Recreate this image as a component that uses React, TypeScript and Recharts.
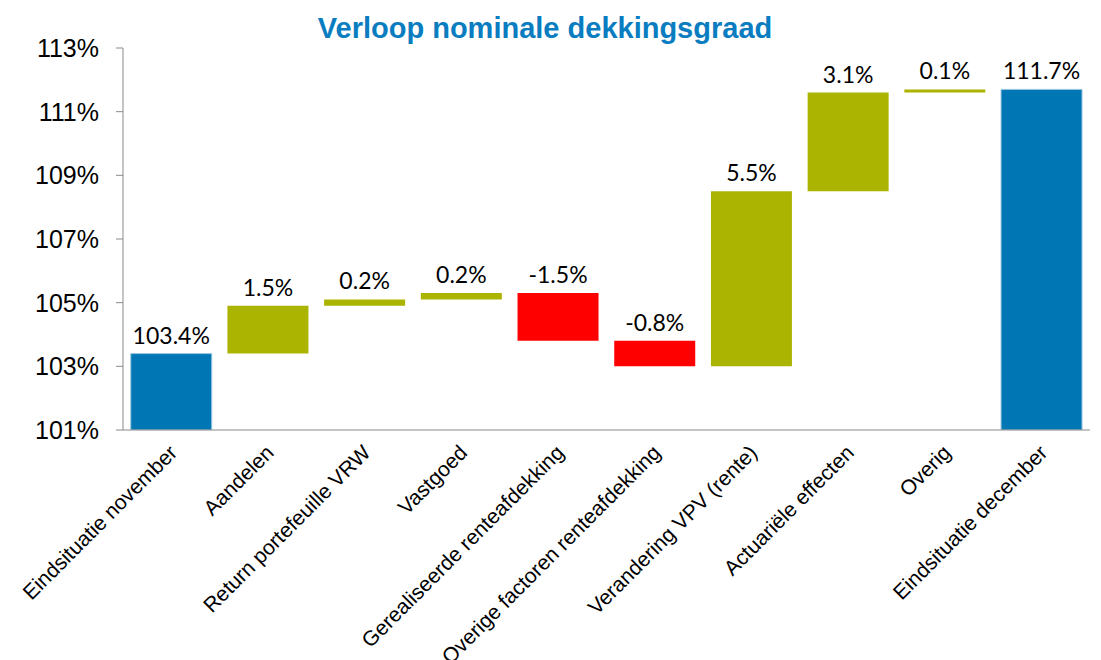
import { Bar, BarChart, Cell, LabelList, XAxis, YAxis } from "recharts";

const categories = [
  "Eindsituatie november",
  "Aandelen",
  "Return portefeuille VRW",
  "Vastgoed",
  "Gerealiseerde renteafdekking",
  "Overige factoren renteafdekking",
  "Verandering VPV (rente)",
  "Actuariële effecten",
  "Overig",
  "Eindsituatie december",
];
// totals are levels, the rest are changes in percentage points
const changes = [103.4, 1.5, 0.2, 0.2, -1.5, -0.8, 5.5, 3.1, 0.1, 111.7];
const isTotal = [true, false, false, false, false, false, false, false, false, true];
const yTicks = [101, 103, 105, 107, 109, 111, 113];
const edgeTicks = [0, 1, 2, 3, 4, 5, 6, 7, 8, 9, 10];

const Y_MIN = 101;
const BLUE = "#0077b4";
const OLIVE = "#abb400";
const RED = "#ff0000";

let level = 0;
const rows = categories.map((name, i) => {
  let low: number;
  let high: number;
  if (isTotal[i]) {
    level = changes[i];
    low = Y_MIN;
    high = level;
  } else {
    const next = level + changes[i];
    low = Math.min(level, next);
    high = Math.max(level, next);
    level = next;
  }
  return {
    name,
    range: [low, high],
    label: changes[i].toFixed(1) + "%",
    color: isTotal[i] ? BLUE : changes[i] < 0 ? RED : OLIVE,
  };
});

function CategoryTick({ x, y, payload }: any) {
  return (
    <g transform={`translate(${x + 7},${y + 15}) rotate(-45)`}>
      <text textAnchor="end" fontSize={21} fill="#000" fontFamily="'Liberation Sans', Arial, sans-serif">
        {payload.value}
      </text>
    </g>
  );
}

export default function App() {
  return (
    <div style={{ position: "absolute", left: 0, top: 0, width: 1101, height: 660, background: "#fff" }}>
      <div
        style={{
          position: "absolute",
          left: 0,
          width: 1090,
          top: 12,
          textAlign: "center",
          fontFamily: "'Liberation Sans', Arial, sans-serif",
          fontWeight: "bold",
          fontSize: 29,
          color: "#0a7dc1",
        }}
      >
        Verloop nominale dekkingsgraad
      </div>
      <BarChart
        width={1101}
        height={660}
        data={rows}
        margin={{ top: 48, right: 11, bottom: 0, left: 0 }}
        barCategoryGap="8%"
      >
        {/* boundary ticks between categories, Excel style */}
        <XAxis
          xAxisId={0}
          type="number"
          domain={[0, 10]}
          ticks={edgeTicks}
          height={1}
          tick={false}
          tickSize={7}
          stroke="#8a8a8a"
          allowDataOverflow
        />
        <XAxis
          xAxisId="cat"
          dataKey="name"
          interval={0}
          height={229}
          tickLine={false}
          axisLine={false}
          tick={<CategoryTick />}
        />
        <YAxis
          width={123}
          domain={[Y_MIN, 113]}
          ticks={yTicks}
          allowDataOverflow
          tickSize={7}
          tickMargin={17}
          stroke="#8a8a8a"
          tick={{ fill: "#000", fontSize: 25, fontFamily: "'Liberation Sans', Arial, sans-serif" }}
          tickFormatter={(v: number) => `${v}%`}
        />
        <Bar dataKey="range" xAxisId="cat" isAnimationActive={false}>
          {rows.map((r, i) => (
            <Cell key={i} fill={r.color} stroke={r.color === BLUE ? "#9cc6e0" : "none"} />
          ))}
          <LabelList
            dataKey="label"
            position="top"
            offset={10}
            fill="#000"
            fontSize={23}
            fontFamily="Lato, 'Open Sans', sans-serif"
          />
        </Bar>
      </BarChart>
    </div>
  );
}
